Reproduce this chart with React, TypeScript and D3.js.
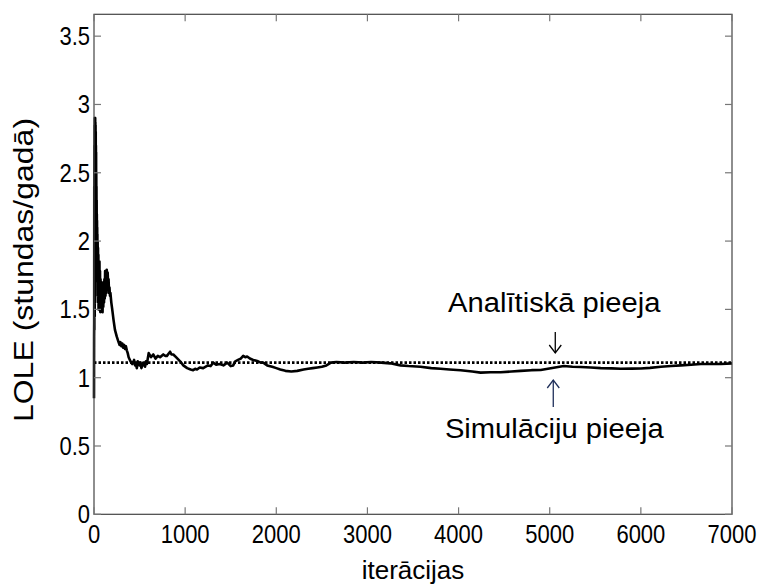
import React from "react";
import * as d3 from "d3";

// ---- data ----
const iterations: number[] = [
  0, 1, 2, 3, 4, 5, 6, 7, 8, 9, 10, 11, 12, 13, 14, 15, 16, 17, 18, 19, 20, 21, 22, 23, 24, 25, 26, 27, 28, 29,
  30, 31, 32, 33, 34, 35, 36, 37, 38, 40, 42, 44, 46, 48, 50, 52, 54, 56, 58, 60, 63, 66, 69, 72, 75, 78, 81,
  84, 87, 90, 94, 98, 102, 106, 110, 114, 118, 122, 126, 130, 135, 140, 145, 150, 155, 160, 165, 170, 175, 180,
  190, 200, 215, 230, 250, 265, 280, 290, 300, 310, 320, 330, 340, 350, 360, 370, 380, 400,
  420, 440, 450, 460, 470, 480, 500, 510, 520, 540, 560, 570, 580, 600, 625, 650, 675, 700, 725, 760, 780, 800,
  835, 850, 870, 900, 945, 980, 1022,
  1060, 1088, 1110, 1130, 1160, 1198, 1250, 1280, 1308, 1340, 1380, 1420, 1462, 1500, 1527, 1550, 1580, 1610,
  1637, 1660, 1680, 1710, 1747, 1800, 1830, 1857, 1900, 1956, 2000, 2044,
  2100, 2165, 2230, 2300, 2350, 2400, 2450, 2500, 2550, 2600, 2660, 2750, 2850, 2950, 3040, 3150, 3250, 3363,
  3450, 3582, 3700,
  3802, 3900, 4022, 4150, 4242, 4350, 4462, 4580, 4681, 4800, 4901, 4980, 5044, 5154, 5250, 5341, 5450, 5560,
  5680, 5780, 5900, 6000, 6100, 6220, 6330, 6440, 6550, 6659, 6779, 6879, 7000,
];
const simulated: number[] = [
  0.85, 1.3, 1.4, 2.4, 1.35, 2.7, 1.5, 2.85, 1.45, 2.9, 1.6, 2.88, 1.55, 2.9, 1.7, 2.87, 1.75, 2.85, 1.8, 2.8,
  1.85, 2.7, 1.9, 2.65, 1.9, 2.5, 1.95, 2.4, 1.92, 2.3,
  1.95, 2.2, 1.9, 2.15, 1.85, 2.1, 1.8, 2.05, 1.78, 2.0, 1.6, 1.95, 1.55, 1.9, 1.5, 1.85, 1.52, 1.8, 1.55, 1.85,
  1.5, 1.78, 1.48, 1.72, 1.5, 1.7, 1.52, 1.65, 1.5, 1.62,
  1.48, 1.68, 1.52, 1.7, 1.55, 1.72, 1.58, 1.78, 1.6, 1.75, 1.62, 1.79, 1.65, 1.77, 1.68, 1.72, 1.62, 1.66, 1.6,
  1.62, 1.55, 1.5, 1.42, 1.35, 1.3, 1.27, 1.24, 1.26, 1.23, 1.25, 1.22, 1.24, 1.21, 1.23, 1.2, 1.18, 1.15, 1.12,
  1.1, 1.13, 1.09, 1.1, 1.07, 1.12, 1.09, 1.11, 1.07, 1.11, 1.08, 1.12, 1.1, 1.18, 1.15, 1.17, 1.14, 1.16, 1.15,
  1.17, 1.16, 1.16, 1.19, 1.17, 1.17, 1.15, 1.12, 1.09, 1.07,
  1.06, 1.055, 1.065, 1.06, 1.075, 1.07, 1.09, 1.085, 1.11, 1.095, 1.1, 1.09, 1.11, 1.085, 1.09, 1.12, 1.13,
  1.14, 1.16, 1.15, 1.155, 1.14, 1.13, 1.12, 1.11, 1.11, 1.09, 1.08, 1.07, 1.06,
  1.05, 1.045, 1.05, 1.06, 1.065, 1.07, 1.075, 1.08, 1.09, 1.11, 1.115, 1.11, 1.115, 1.11, 1.115, 1.11, 1.105,
  1.09, 1.085, 1.08, 1.07,
  1.065, 1.06, 1.055, 1.045, 1.037, 1.04, 1.04, 1.045, 1.05, 1.055, 1.056, 1.065, 1.073, 1.085, 1.08, 1.078,
  1.075, 1.07, 1.068, 1.065, 1.066, 1.067, 1.072, 1.08, 1.085, 1.09, 1.095, 1.1, 1.1, 1.1, 1.105,
];
const analytical = 1.11;
const xTicks: number[] = [0, 1000, 2000, 3000, 4000, 5000, 6000, 7000];
const yTicks: number[] = [0, 0.5, 1, 1.5, 2, 2.5, 3, 3.5];
const yLabel = "LOLE (stundas/gadā)";
const xLabel = "iterācijas";
const topNote = "Analītiskā pieeja";
const bottomNote = "Simulāciju pieeja";
const noteIteration = 5050;

const FONT = "'Liberation Sans', Arial, sans-serif";

export default function App() {
  const W = 762, H = 585;
  const x = d3.scaleLinear().domain([0, 7000]).range([94, 732]);
  const y = d3.scaleLinear().domain([0, 3.66]).range([514.3, 14.3]);
  const [x0, x1] = x.range();
  const [y0, y1] = y.range();
  const pts: [number, number][] = iterations.map((it, i) => [it, simulated[i]]);
  const line = d3.line<[number, number]>().x((d) => x(d[0])).y((d) => y(d[1]));
  const tl = 7;
  const axisColor = "#444";
  const nx = x(noteIteration);

  const arrow = (xa: number, yTail: number, yHead: number, color: string) => {
    const dir = yHead > yTail ? 1 : -1;
    return (
      <g stroke={color} strokeWidth={1.3} fill="none">
        <line x1={xa} y1={yTail} x2={xa} y2={yHead} />
        <path d={`M${xa - 6},${yHead - dir * 8} L${xa},${yHead} L${xa + 6},${yHead - dir * 8}`} />
      </g>
    );
  };

  return (
    <svg width={W} height={H} style={{ position: "absolute", left: 0, top: 0, background: "#fff" }}>
      <rect x={0} y={0} width={W} height={H} fill="#fff" />
      <line x1={x0} x2={x1} y1={y(analytical)} y2={y(analytical)} stroke="#000" strokeWidth={2.6} strokeDasharray="2.5,2" />
      <path d={line(pts) || ""} fill="none" stroke="#000" strokeWidth={2.6} strokeLinejoin="round" />
      <rect x={x0} y={y1} width={x1 - x0} height={y0 - y1} fill="none" stroke={axisColor} strokeWidth={1.2} />
      <g stroke="#777" strokeWidth={1.2}>
        {xTicks.map((t) => (
          <g key={"xt" + t}>
            <line x1={x(t)} x2={x(t)} y1={y0} y2={y0 - tl} />
            <line x1={x(t)} x2={x(t)} y1={y1} y2={y1 + tl} />
          </g>
        ))}
        {yTicks.map((t) => (
          <g key={"yt" + t}>
            <line x1={x0} x2={x0 + tl} y1={y(t)} y2={y(t)} />
            <line x1={x1} x2={x1 - tl} y1={y(t)} y2={y(t)} />
          </g>
        ))}
      </g>
      <g fontFamily={FONT} fontSize={25} fill="#000">
        {xTicks.map((t) => (
          <text key={"xl" + t} transform={`translate(${x(t)},${543}) scale(0.88,1)`} textAnchor="middle">
            {String(t)}
          </text>
        ))}
        {yTicks.map((t) => (
          <text key={"yl" + t} transform={`translate(${90},${y(t) + 9}) scale(0.88,1)`} textAnchor="end">
            {String(t)}
          </text>
        ))}
      </g>
      <text
        transform={`translate(33,270) scale(0.85,1) rotate(-90)`}
        textAnchor="middle"
        fontFamily={FONT}
        fontSize={32}
        fill="#000"
      >
        {yLabel}
      </text>
      <text x={413} y={579} textAnchor="middle" fontFamily={FONT} fontSize={26} fill="#000">
        {xLabel}
      </text>
      <text transform={`translate(${nx},312) scale(1.08,1)`} textAnchor="middle" fontFamily={FONT} fontSize={27} fill="#000">
        {topNote}
      </text>
      {arrow(nx + 1, 332, 353, "#000")}
      {arrow(nx - 1, 407, 380, "#1f2f5a")}
      <text transform={`translate(${nx},438) scale(1.08,1)`} textAnchor="middle" fontFamily={FONT} fontSize={27} fill="#000">
        {bottomNote}
      </text>
    </svg>
  );
}
